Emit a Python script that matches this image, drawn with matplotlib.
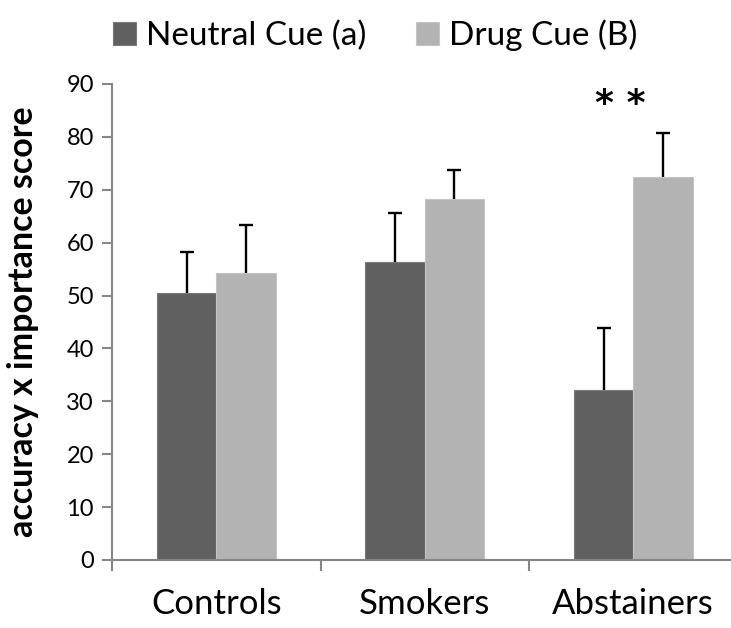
import numpy as np
import matplotlib
matplotlib.use("Agg")
import matplotlib.pyplot as plt

plt.rcParams['font.family'] = ['Lato', 'DejaVu Sans']

groups = ["Controls", "Smokers", "Abstainers"]
neutral = [50.4, 56.3, 32.1]
neutral_err = [7.8, 9.3, 11.8]
drug = [54.2, 68.3, 72.5]
drug_err = [9.1, 5.4, 8.3]
series_names = ["Neutral Cue (a)", "Drug Cue (B)"]
yticks = [0, 10, 20, 30, 40, 50, 60, 70, 80, 90]

dark = "#606060"
light = "#b3b3b3"
axis_col = "#868686"

fig = plt.figure(figsize=(7.31, 6.28), dpi=100)
ax = fig.add_axes([112/731, 1-560/628, (737.5-112)/731, (560-84)/628])

x = np.arange(len(groups))
w = 0.285
b1 = ax.bar(x - w/2, neutral, w, color=dark, edgecolor="#7a7a7a", linewidth=0.8,
            label=series_names[0], zorder=2)
b2 = ax.bar(x + w/2, drug, w, color=light, edgecolor="#c4c4c4", linewidth=0.8,
            label=series_names[1], zorder=2)

# upper error bars only: stem from bar top, cap at the end
for pos, val, err in [(x - w/2, neutral, neutral_err), (x + w/2, drug, drug_err)]:
    top = np.array(val) + np.array(err)
    ax.vlines(pos, val, top, color="black", linewidth=1.7, zorder=3)
    ax.plot(pos, top, ls="none", marker="_", markersize=9.5,
            markeredgewidth=1.7, color="black", zorder=3)

# significance marker over the abstainers pair
ax.text(1.94, 86.2, "* *", ha="center", va="center", fontsize=26,
        fontweight="bold", family="DejaVu Sans")

ax.set_xlim(-0.5, 2.5)
ax.set_ylim(0, 90)
ax.set_yticks(yticks)
ax.tick_params(axis="y", direction="out", length=7, width=1.5, color=axis_col,
               labelsize=17, pad=6)

ax.set_xticks(x)
ax.set_xticklabels(groups, fontsize=25)
ax.tick_params(axis="x", length=0, pad=20)
ax.set_xticks([-0.5, 0.5, 1.5, 2.5], minor=True)
ax.tick_params(axis="x", which="minor", direction="out", length=8, width=1.5,
               color=axis_col)

for s in ["top", "right"]:
    ax.spines[s].set_visible(False)
for s in ["left", "bottom"]:
    ax.spines[s].set_color(axis_col)
    ax.spines[s].set_linewidth(1.5)

ax.set_ylabel("accuracy x importance score", fontsize=24.5, fontweight="bold",
              labelpad=20)

fig.legend(handles=[b1, b2], loc="center", bbox_to_anchor=(375/731, 1-35/628),
           ncol=2, frameon=False, fontsize=24, handlelength=0.68,
           handleheight=0.68, handletextpad=0.3, columnspacing=1.5)

fig.savefig("out.png", dpi=100)
